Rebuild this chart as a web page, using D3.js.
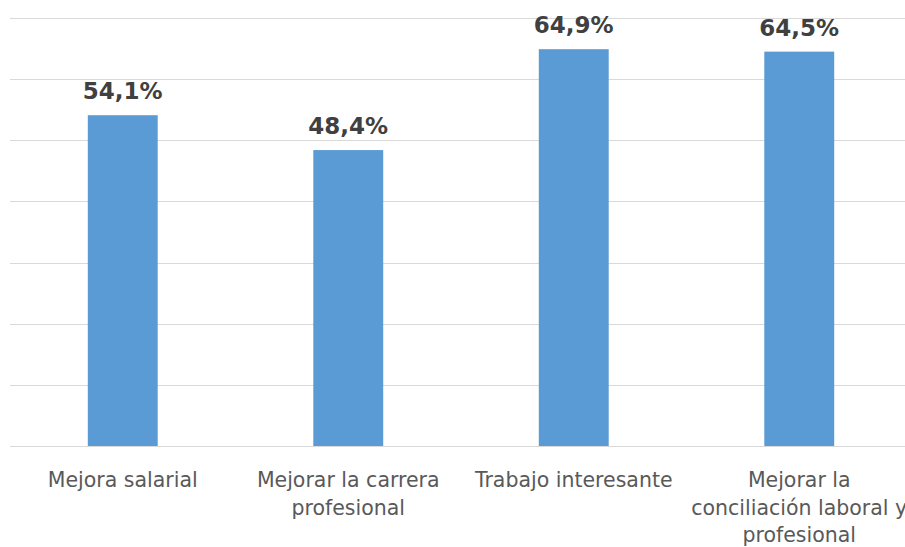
<!DOCTYPE html>
<html>
<head>
<meta charset="utf-8">
<script src="https://cdn.jsdelivr.net/npm/d3@7"></script>
<style>
  html, body { margin: 0; padding: 0; background: #fff; }
  svg { display: block; }
</style>
</head>
<body>
<svg id="chart" width="905" height="547"></svg>
<script>
const categories = ["Mejora salarial", "Mejorar la carrera profesional", "Trabajo interesante", "Mejorar la conciliación laboral y profesional"];
const categoryLines = [["Mejora salarial"], ["Mejorar la carrera", "profesional"], ["Trabajo interesante"], ["Mejorar la", "conciliación laboral y", "profesional"]];
const values = [54.1, 48.4, 64.9, 64.5];
const yTicks = [0, 10, 20, 30, 40, 50, 60, 70];

const svg = d3.select("#chart");
const x = d3.scaleBand().domain(categories).range([10, 912]).paddingInner(0.69).paddingOuter(0.345);
const y = d3.scaleLinear().domain([0, 70]).range([446, 18]);

svg.append("g").selectAll("line").data(yTicks).join("line")
  .attr("x1", 10).attr("x2", 905)
  .attr("y1", d => Math.round(y(d)) + 0.5).attr("y2", d => Math.round(y(d)) + 0.5)
  .attr("stroke", "#d9d9d9").attr("stroke-width", 1);

svg.append("g").selectAll("rect").data(values).join("rect")
  .attr("x", (d, i) => x(categories[i]))
  .attr("width", x.bandwidth())
  .attr("y", d => y(d))
  .attr("height", d => y(0) - y(d))
  .attr("fill", "#5b9bd5");

svg.append("g").selectAll("text").data(values).join("text")
  .attr("x", (d, i) => x(categories[i]) + x.bandwidth() / 2)
  .attr("y", d => y(d) - 16)
  .attr("text-anchor", "middle")
  .attr("font-family", "DejaVu Sans, Verdana, sans-serif")
  .attr("font-weight", "bold")
  .attr("font-size", "23px")
  .attr("fill", "#404040")
  .text(d => d.toFixed(1).replace(".", ",") + "%");

const lab = svg.append("g").selectAll("text").data(categoryLines).join("text")
  .attr("x", (d, i) => x(categories[i]) + x.bandwidth() / 2)
  .attr("y", 487)
  .attr("text-anchor", "middle")
  .attr("font-family", "DejaVu Sans, Verdana, sans-serif")
  .attr("font-size", "20.5px")
  .attr("fill", "#595959");
lab.each(function(lines, i) {
  const c = x(categories[i]) + x.bandwidth() / 2;
  d3.select(this).selectAll("tspan").data(lines).join("tspan")
    .attr("x", c).attr("dy", (l, j) => j === 0 ? 0 : 27.5).text(l => l);
});
</script>
</body>
</html>
